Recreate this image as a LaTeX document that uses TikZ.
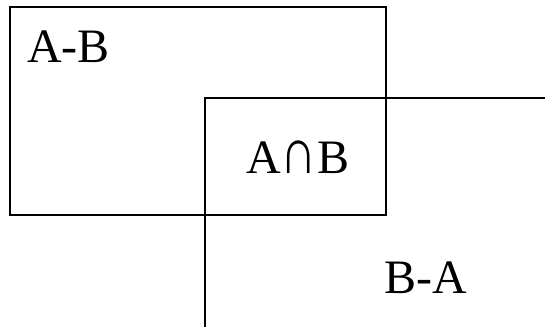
\documentclass[tikz,border=0pt]{standalone}
\usepackage{fontspec}
\setmainfont{Liberation Serif}
\usetikzlibrary{positioning}

\begin{document}
\begin{tikzpicture}[x=0.5pt, y=-0.5pt, line width=1pt,
    setlabel/.style={anchor=base west, inner sep=0pt, font=\fontsize{24}{28}\selectfont}]
  %% ── Canvas ──────────────────────────────────────────────
  \useasboundingbox (0,0) rectangle (545,327);
  %% ── Set A: closed rectangle ─────────────────────────────
  \draw (10,7) rectangle (386,215);
  %% ── Set B: open to the right and below ──────────────────
  \draw (545,98) -- (205,98) -- (205,327);
  %% ── Region labels ───────────────────────────────────────
  \node[setlabel] (amb) at (26,62)  {A-B};
  \node[setlabel] (anb) at (245,173) {A\scalebox{1.05}[1.35]{∩}B};
  \node[setlabel] (bma) at (383,293) {B-A};
\end{tikzpicture}
\end{document}
